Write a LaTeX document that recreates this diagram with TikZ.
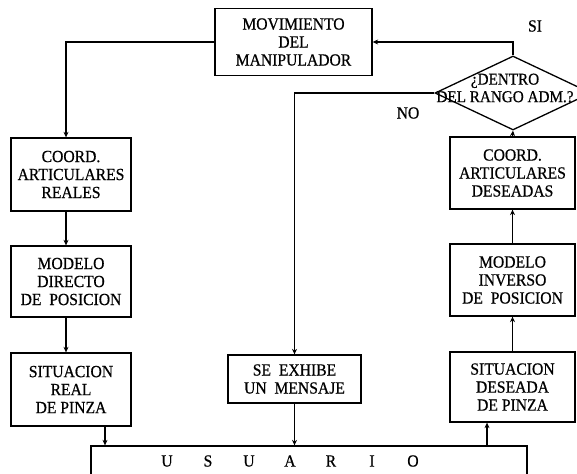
\documentclass[tikz,border=0pt]{standalone}
\usepackage{fontspec}
\setmainfont{Liberation Serif}[FakeStretch=0.92,FakeBold=0.6]
\usetikzlibrary{shapes.geometric,arrows.meta,calc}
\begin{document}
\begin{tikzpicture}[x=1pt,y=-1pt,
  txt/.style={font=\fontsize{17}{18}\selectfont},
  box/.style={draw,line width=1.3pt,rectangle,inner sep=0pt,align=center,txt},
  lbl/.style={txt,inner sep=0pt,align=center},
  arr/.style={line width=1.1pt,-{Stealth[length=5.5pt,width=5pt]}}]
\useasboundingbox (0,0) rectangle (577,473);
\clip (0,0) rectangle (577,473);
\fill[white] (0,0) rectangle (577,473);

\node[box,minimum width=157pt,minimum height=67pt] (mov) at (293.5,42) {MOVIMIENTO\\DEL\\MANIPULADOR};
\node[draw,diamond,line width=1.3pt,minimum width=156pt,minimum height=74pt,inner sep=0pt] (dec) at (513,93) {};
\node[lbl,font=\fontsize{16.5}{17.5}\selectfont] (dectxt) at (505,88) {¿DENTRO\\DEL RANGO ADM.?};
\node[lbl] (si) at (535,26) {SI};
\node[lbl] (no) at (408,113) {NO};

\node[box,minimum width=120pt,minimum height=73pt] (real) at (71,174.5) {COORD.\\ARTICULARES\\REALES};
\node[box,minimum width=120pt,minimum height=71pt] (dir) at (71,281.5) {MODELO\\DIRECTO\\DE\ \ POSICION};
\node[box,minimum width=120pt,minimum height=73pt] (sreal) at (71,389.5) {SITUACION\\REAL\\DE PINZA};

\node[box,minimum width=133pt,minimum height=48pt] (msg) at (294.5,379) {SE\ \ EXHIBE\\UN\ \ MENSAJE};

\node[box,minimum width=125pt,minimum height=72pt] (des) at (512.5,173) {COORD.\\ARTICULARES\\DESEADAS};
\node[box,minimum width=125pt,minimum height=72pt] (inv) at (512.5,280) {MODELO\\INVERSO\\DE\ \ POSICION};
\node[box,minimum width=125pt,minimum height=70pt] (sdes) at (512.5,387) {SITUACION\\DESEADA\\DE PINZA};

\node[box,minimum width=436pt,minimum height=60pt] (usr) at (309,476) {};
\node[lbl] (usrtxt) at (290,461) {\makebox[41pt]{U}\makebox[41pt]{S}\makebox[41pt]{U}\makebox[41pt]{A}\makebox[41pt]{R}\makebox[41pt]{I}\makebox[41pt]{O}};

\coordinate (lx) at (66,0);
\coordinate (rx) at (105,0);
\coordinate (ux) at (487,0);
\draw[arr] (mov.west) -| (real.north -| lx);
\draw[arr] (real.south -| lx) -- (dir.north -| lx);
\draw[arr] (dir.south -| lx) -- (sreal.north -| lx);
\draw[arr] (sreal.south -| rx) -- (usr.north -| rx);
\draw[arr] (msg.south) -- (usr.north -| msg.south);
\draw[arr] (usr.north -| ux) -- (sdes.south -| ux);
\draw[arr] (sdes.north) -- (inv.south);
\draw[arr] (inv.north) -- (des.south);
\draw[arr] (des.north) -- (dec.south);
\draw[arr] (dec.north) |- (mov.east);
\draw[arr] (dec.west) -| (msg.north);
\end{tikzpicture}
\end{document}
